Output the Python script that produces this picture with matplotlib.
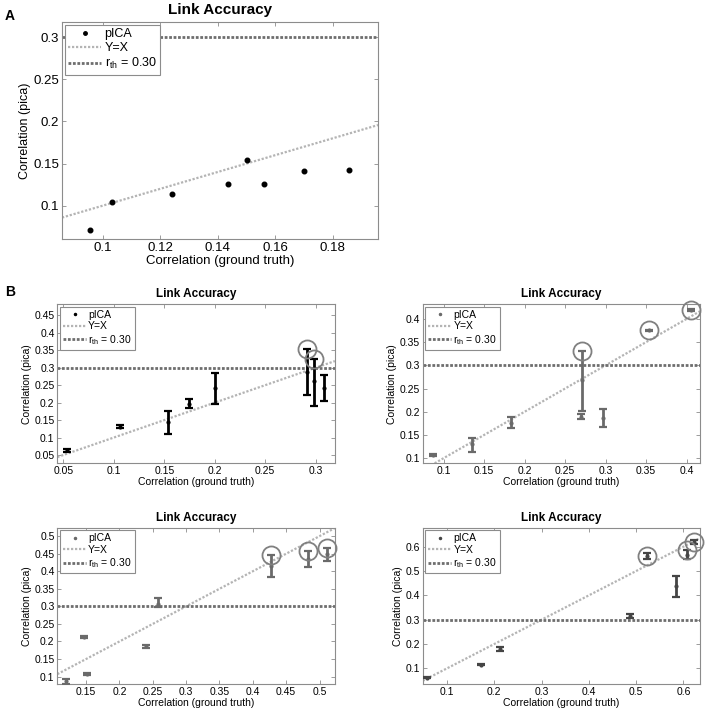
import numpy as np
import matplotlib
matplotlib.use('Agg')
import matplotlib.pyplot as plt

plt.rcParams['font.family'] = ['Liberation Sans', 'DejaVu Sans']
plt.rcParams['mathtext.fontset'] = 'custom'
plt.rcParams['mathtext.rm'] = 'Liberation Sans'
plt.rcParams['mathtext.it'] = 'Liberation Sans'

# Panel A: plain points
a_x = [0.0957, 0.1032, 0.1241, 0.1435, 0.1502, 0.1561, 0.1700, 0.1855]
a_y = [0.0707, 0.1047, 0.1143, 0.1258, 0.1543, 0.1253, 0.1407, 0.1419]

# Panel B: points with error bars (y, lower end, upper end)
b1_x = [0.054, 0.1064, 0.154, 0.174, 0.200, 0.2918, 0.2983, 0.308]
b1_y = [0.063, 0.131, 0.145, 0.197, 0.241, 0.288, 0.261, 0.242]
b1_lo = [0.058, 0.127, 0.111, 0.185, 0.196, 0.222, 0.191, 0.204]
b1_hi = [0.068, 0.135, 0.177, 0.210, 0.286, 0.354, 0.326, 0.279]
b1_cx = [0.2918, 0.2983]
b1_cy = [0.354, 0.326]

b2_x = [0.087, 0.1345, 0.183, 0.271, 0.270, 0.2964, 0.353, 0.405]
b2_y = [0.107, 0.130, 0.175, 0.268, 0.189, 0.187, 0.375, 0.419]
b2_lo = [0.105, 0.113, 0.165, 0.202, 0.184, 0.168, 0.373, 0.417]
b2_hi = [0.109, 0.144, 0.188, 0.331, 0.195, 0.206, 0.377, 0.421]
b2_cx = [0.271, 0.353, 0.405]
b2_cy = [0.331, 0.375, 0.419]

b3_x = [0.120, 0.147, 0.151, 0.240, 0.258, 0.427, 0.482, 0.511]
b3_y = [0.087, 0.212, 0.108, 0.186, 0.308, 0.416, 0.436, 0.448]
b3_lo = [0.080, 0.209, 0.105, 0.181, 0.297, 0.383, 0.411, 0.430]
b3_hi = [0.094, 0.215, 0.111, 0.191, 0.325, 0.447, 0.458, 0.466]
b3_cx = [0.427, 0.482, 0.511]
b3_cy = [0.447, 0.458, 0.466]

b4_x = [0.058, 0.171, 0.212, 0.486, 0.522, 0.585, 0.607, 0.623]
b4_y = [0.062, 0.115, 0.179, 0.315, 0.561, 0.437, 0.566, 0.618]
b4_lo = [0.059, 0.112, 0.170, 0.307, 0.549, 0.395, 0.548, 0.610]
b4_hi = [0.065, 0.118, 0.188, 0.323, 0.573, 0.481, 0.586, 0.626]
b4_cx = [0.522, 0.607, 0.623]
b4_cy = [0.561, 0.588, 0.618]

r_th = 0.30

fig = plt.figure(figsize=(7.08, 7.11), dpi=100)


def style_axes(ax, tick_fs):
    for s in ax.spines.values():
        s.set_color('#8c8c8c')
        s.set_linewidth(0.8)
    ax.tick_params(direction='in', top=True, right=True, labelsize=tick_fs,
                   length=3, width=0.6, color='#8c8c8c', pad=2)


def ref_lines(ax):
    ax.axline((0, 0), slope=1, color='#b4b4b4', lw=1.6, ls=(0, (1, 0.8)),
              label='Y=X', zorder=2)
    ax.axhline(r_th, color='#6e6e6e', lw=2.0, ls=(0, (1, 0.6)),
               label=r'r$_{\mathrm{th}}$ = 0.30', zorder=2)


# ---- panel A
axA = fig.add_axes([0.0876, 0.664, 0.4464, 0.305])
axA.plot(a_x, a_y, 'o', color='black', ms=3.3, label='pICA', zorder=5)
ref_lines(axA)
axA.set_xlim(0.0858, 0.1957)
axA.set_ylim(0.0605, 0.318)
axA.set_xticks([0.1, 0.12, 0.14, 0.16, 0.18])
axA.set_xticklabels(['0.1', '0.12', '0.14', '0.16', '0.18'])
axA.set_yticks([0.1, 0.15, 0.2, 0.25, 0.3])
axA.set_yticklabels(['0.1', '0.15', '0.2', '0.25', '0.3'])
style_axes(axA, 9.5)
axA.set_title('Link Accuracy', fontsize=11, fontweight='bold', pad=6)
axA.set_xlabel('Correlation (ground truth)', fontsize=9.5, labelpad=1)
axA.set_ylabel('Correlation (pica)', fontsize=9, labelpad=2)
legA = axA.legend(loc='upper left', fontsize=9, handlelength=2.6, handletextpad=0.3,
                  borderaxespad=0.2, borderpad=0.3, labelspacing=0.15,
                  fancybox=False, framealpha=1, edgecolor='#8c8c8c')
legA.get_frame().set_linewidth(0.8)
legA.legend_handles[0].set_markersize(2.5)

fig.text(0.007, 0.978, 'A', fontsize=10, fontweight='bold', va='center')
fig.text(0.007, 0.589, 'B', fontsize=10, fontweight='bold', va='center')

# ---- panel B
panels = [
    ([0.081, 0.3484, 0.392, 0.224], b1_x, b1_y, b1_lo, b1_hi, b1_cx, b1_cy, 'black',
     (0.044, 0.319), (0.0262, 0.4824),
     [0.05, 0.1, 0.15, 0.2, 0.25, 0.3], [0.05, 0.1, 0.15, 0.2, 0.25, 0.3, 0.35, 0.4, 0.45]),
    ([0.597, 0.3484, 0.3917, 0.224], b2_x, b2_y, b2_lo, b2_hi, b2_cx, b2_cy, '#6a6a6a',
     (0.0742, 0.4165), (0.089, 0.432),
     [0.1, 0.15, 0.2, 0.25, 0.3, 0.35, 0.4], [0.1, 0.15, 0.2, 0.25, 0.3, 0.35, 0.4]),
    ([0.081, 0.038, 0.392, 0.2198], b3_x, b3_y, b3_lo, b3_hi, b3_cx, b3_cy, '#6a6a6a',
     (0.107, 0.523), (0.079, 0.524),
     [0.15, 0.2, 0.25, 0.3, 0.35, 0.4, 0.45, 0.5], [0.1, 0.15, 0.2, 0.25, 0.3, 0.35, 0.4, 0.45, 0.5]),
    ([0.597, 0.038, 0.3917, 0.2198], b4_x, b4_y, b4_lo, b4_hi, b4_cx, b4_cy, '#454545',
     (0.0484, 0.635), (0.0356, 0.678),
     [0.1, 0.2, 0.3, 0.4, 0.5, 0.6], [0.1, 0.2, 0.3, 0.4, 0.5, 0.6]),
]

for rect, x, y, lo, hi, cx, cy, col, xl, yl, xt, yt in panels:
    ax = fig.add_axes(rect)
    x = np.array(x); y = np.array(y)
    yerr = [y - np.array(lo), np.array(hi) - y]
    ax.errorbar(x, y, yerr=yerr, fmt='none', ecolor=col,
                elinewidth=2, capsize=3, capthick=1.6, zorder=4)
    ax.plot(x, y, '.', color=col, ms=4, label='pICA', zorder=5)
    ref_lines(ax)
    ax.plot(cx, cy, 'o', mfc='none', mec='#808080', ms=13, mew=1.3, zorder=6,
            clip_on=False)
    ax.set_xlim(*xl)
    ax.set_ylim(*yl)
    ax.set_xticks(xt)
    ax.set_xticklabels([('%g' % v) for v in xt])
    ax.set_yticks(yt)
    ax.set_yticklabels([('%g' % v) for v in yt])
    style_axes(ax, 7.5)
    ax.set_title('Link Accuracy', fontsize=8.5, fontweight='bold', pad=5)
    ax.set_xlabel('Correlation (ground truth)', fontsize=7.5, labelpad=1)
    ax.set_ylabel('Correlation (pica)', fontsize=7.5, labelpad=2)
    leg = ax.legend(loc='upper left', fontsize=7.5, handlelength=2.2, handletextpad=0.2,
                    borderaxespad=0.25, borderpad=0.3, labelspacing=0.15,
                    fancybox=False, framealpha=1, edgecolor='#8c8c8c')
    leg.get_frame().set_linewidth(0.8)
    leg.legend_handles[0].set_markersize(3)

fig.savefig('out.png', dpi=100)
